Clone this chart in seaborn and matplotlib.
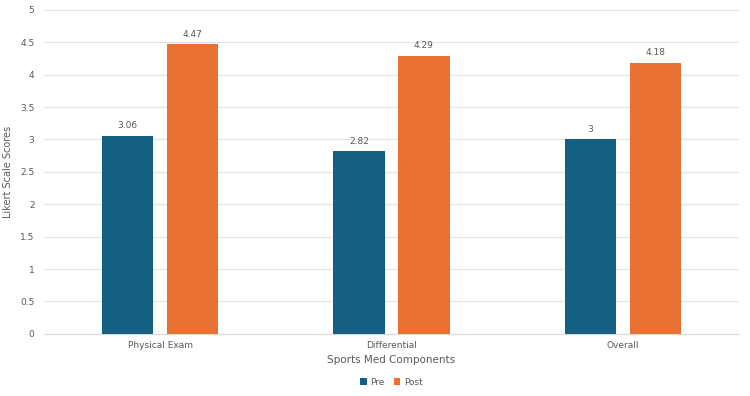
import pandas as pd
import matplotlib.pyplot as plt
import seaborn as sns

# chart values
components = ["Physical Exam", "Differential", "Overall"]
pre_scores = [3.06, 2.82, 3]
post_scores = [4.47, 4.29, 4.18]
phases = ["Pre", "Post"]

# long format table for seaborn
data = pd.DataFrame({
    "Component": components * 2,
    "Score": pre_scores + post_scores,
    "Phase": [phases[0]] * 3 + [phases[1]] * 3,
})

sns.set_style("white")
plt.rcParams['font.family'] = ['DejaVu Sans']
textColor = "#595959"

fig = plt.figure(figsize=(7.5, 3.96), dpi=100)
ax = fig.add_axes([0.059, 0.157, 0.926, 0.818])

sns.barplot(data=data, x="Component", y="Score", hue="Phase",
            palette=["#156082", "#E97132"], saturation=1, width=0.56, gap=0.21,
            linewidth=0, ax=ax, zorder=3)

# value labels on top of bars
for container in ax.containers:
    ax.bar_label(container, labels=[f"{v.get_height():g}" for v in container],
                 padding=4, fontsize=6.5, color=textColor)

ax.set_ylim(0, 5)
ax.set_yticks([0, 0.5, 1, 1.5, 2, 2.5, 3, 3.5, 4, 4.5, 5])
ax.set_yticklabels(["0", "0.5", "1", "1.5", "2", "2.5", "3", "3.5", "4", "4.5", "5"])
ax.yaxis.grid(True, color="#e3e3e3", linewidth=0.8, zorder=0)
ax.set_xlim(-0.5, 2.5)
for side in ["top", "right", "left"]:
    ax.spines[side].set_visible(False)
ax.spines["bottom"].set_color("#d9d9d9")
ax.tick_params(axis="both", length=0, labelsize=6.5, colors=textColor, pad=7)
ax.tick_params(axis="x", pad=5)

ax.set_xlabel("Sports Med Components", fontsize=7.5, color=textColor, labelpad=4)
ax.set_ylabel("Likert Scale Scores", fontsize=7, color=textColor, labelpad=5)

ax.legend(loc="upper center", bbox_to_anchor=(0.5, -0.11), ncol=2, frameon=False,
          fontsize=6.5, labelcolor=textColor, handlelength=0.7, handleheight=0.7,
          handletextpad=0.4, columnspacing=1.0)

plt.savefig("out.png", dpi=100)
